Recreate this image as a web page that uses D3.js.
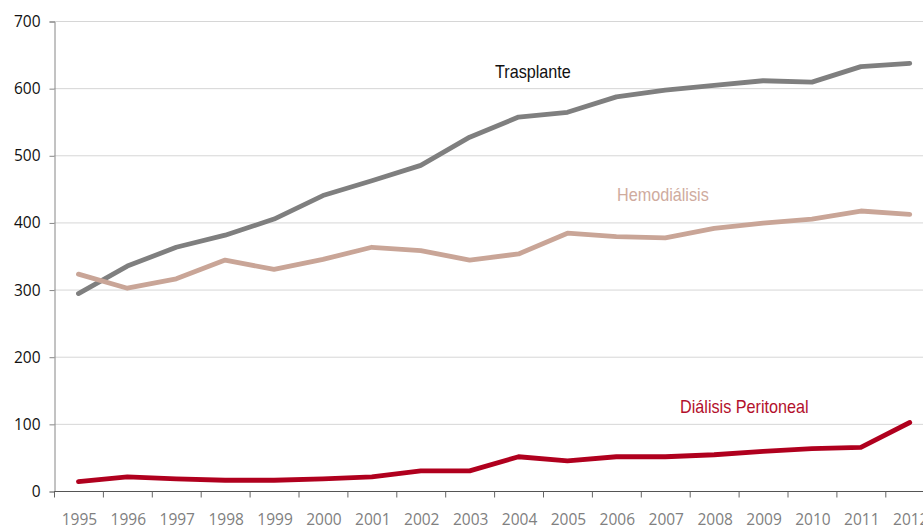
<!DOCTYPE html>
<html>
<head>
<meta charset="utf-8">
<script src="https://cdn.jsdelivr.net/npm/d3@7"></script>
<style>
  html, body { margin: 0; padding: 0; background: #fff; overflow: hidden; }
  svg { display: block; }
</style>
</head>
<body>
<div id="chart"></div>
<script>
// data
const years = [1995, 1996, 1997, 1998, 1999, 2000, 2001, 2002, 2003, 2004, 2005, 2006, 2007, 2008, 2009, 2010, 2011, 2012];
const trasplante = [294, 335, 363, 381, 405, 440, 462, 485, 527, 557, 564, 587, 597, 604, 611, 609, 632, 637];
const hemodialisis = [323, 302, 316, 344, 330, 345, 363, 358, 344, 353, 384, 379, 377, 391, 399, 405, 417, 412];
const peritoneal = [14, 21, 18, 16, 16, 18, 21, 30, 30, 51, 45, 51, 51, 54, 59, 63, 65, 102];
const yTicks = [0, 100, 200, 300, 400, 500, 600, 700];

const series = [
  { name: 'Trasplante', values: trasplante, color: '#7f7f7f', textColor: '#111', labelX: 495, labelY: 78 },
  { name: 'Hemodiálisis', values: hemodialisis, color: '#c9a597', textColor: '#cfab9e', labelX: 617, labelY: 201 },
  { name: 'Diálisis Peritoneal', values: peritoneal, color: '#b0001e', textColor: '#b3102c', labelX: 680, labelY: 413 }
];

const width = 923;
const height = 529;
const margin = { top: 21, right: 0, bottom: 38, left: 54 };
const plotBottom = height - margin.bottom; // 491

const svg = d3.select('#chart')
  .append('svg')
  .attr('width', width)
  .attr('height', height);

const x = d3.scaleBand()
  .domain(years)
  .range([margin.left, margin.left + years.length * 48.9])
  .padding(0);

const y = d3.scaleLinear()
  .domain([0, 700])
  .range([plotBottom, margin.top]);

// gridlines
svg.append('g')
  .attr('class', 'grid')
  .selectAll('line')
  .data(yTicks.filter(d => d > 0))
  .enter()
  .append('line')
  .attr('x1', margin.left)
  .attr('x2', width)
  .attr('y1', d => y(d) + 0.5)
  .attr('y2', d => y(d) + 0.5)
  .attr('stroke', '#d6d6d6')
  .attr('stroke-width', 1);

// y axis
const yAxis = svg.append('g')
  .attr('class', 'y-axis')
  .attr('transform', `translate(${margin.left + 0.5},0.5)`)
  .call(d3.axisLeft(y).tickValues(yTicks).tickSize(5).tickPadding(9).tickFormat(d3.format('d')));
yAxis.select('.domain').attr('stroke', '#868686');
yAxis.selectAll('.tick line').attr('stroke', '#868686');
yAxis.selectAll('text')
  .attr('fill', '#111')
  .style('font-family', '"Open Sans", sans-serif')
  .style('font-size', '15.5px');

// x axis: tick marks on band boundaries, labels at band centres
const xAxis = svg.append('g')
  .attr('class', 'x-axis')
  .attr('transform', `translate(0,${plotBottom + 0.5})`);
xAxis.append('line')
  .attr('x1', margin.left)
  .attr('x2', x.range()[1])
  .attr('stroke', '#555');
xAxis.selectAll('.tick-mark')
  .data(years)
  .enter()
  .append('line')
  .attr('class', 'tick-mark')
  .attr('x1', d => x(d) + 0.5)
  .attr('x2', d => x(d) + 0.5)
  .attr('y1', 0)
  .attr('y2', 6)
  .attr('stroke', '#666');
xAxis.selectAll('.tick-label')
  .data(years)
  .enter()
  .append('text')
  .attr('class', 'tick-label')
  .attr('x', d => x(d) + x.bandwidth() / 2 + 1)
  .attr('y', 33)
  .attr('text-anchor', 'middle')
  .attr('fill', '#808080')
  .style('font-family', '"Open Sans", sans-serif')
  .style('font-size', '15.5px')
  .text(d => d);

// lines
const line = d3.line()
  .x((d, i) => x(years[i]) + x.bandwidth() / 2)
  .y(d => y(d));

svg.selectAll('.series')
  .data(series)
  .enter()
  .append('path')
  .attr('class', 'series')
  .attr('fill', 'none')
  .attr('stroke', d => d.color)
  .attr('stroke-width', 4.8)
  .attr('stroke-linejoin', 'round')
  .attr('stroke-linecap', 'round')
  .attr('d', d => line(d.values));

// series labels (narrow face, squeezed horizontally)
svg.selectAll('.series-label')
  .data(series)
  .enter()
  .append('text')
  .attr('class', 'series-label')
  .attr('transform', d => `translate(${d.labelX},${d.labelY}) scale(0.9,1)`)
  .attr('fill', d => d.textColor)
  .style('font-family', '"Liberation Sans Narrow", "Arial Narrow", "Liberation Sans", sans-serif')
  .style('font-size', '18px')
  .text(d => d.name);
</script>
</body>
</html>
